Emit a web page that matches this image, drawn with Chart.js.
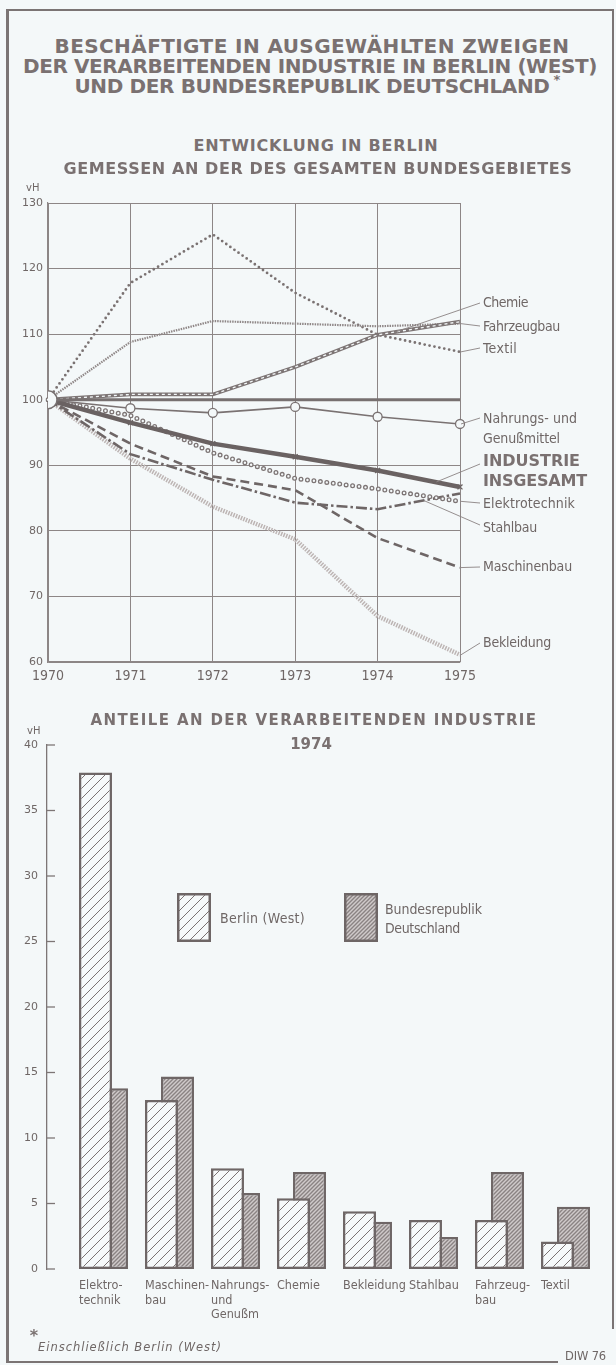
<!DOCTYPE html>
<html lang="de">
<head>
<meta charset="utf-8">
<title>Beschäftigte in ausgewählten Zweigen der verarbeitenden Industrie</title>
<script src="https://cdn.jsdelivr.net/npm/chart.js@4.4.1/dist/chart.umd.min.js"></script>
<style>
  html, body { margin: 0; padding: 0; background: #f4f8f9; }
  #page { position: relative; width: 616px; height: 1365px; overflow: hidden; color: #6f6766; }
  .frame { position: absolute; background: #7b7474; }
  .t { position: absolute; white-space: nowrap; line-height: 1; }
  .head { font-family: 'DejaVu Sans', sans-serif; font-weight: bold; color: #7a7171; }
  .tech { font-family: 'Liberation Sans Narrow', 'DejaVu Sans Condensed', sans-serif; color: #6f6766; }
  .plain { font-family: 'DejaVu Sans', sans-serif; color: #6f6766; }
  canvas { position: absolute; left: 0; }
</style>
</head>
<body>
<div id="page">
  <canvas id="lineChart" width="616" height="520" style="top:180px"></canvas>
  <canvas id="barChart" width="616" height="640" style="top:700px"></canvas>
</div>
<script>
'use strict';

/* ── data: Entwicklung in Berlin, Bundesgebiet = 100 ── */
const YEARS        = ['1970', '1971', '1972', '1973', '1974', '1975'];
const BUND         = [100, 100, 100, 100, 100, 100];
const INSGESAMT    = [100, 96.5, 93.3, 91.3, 89.2, 86.7];
const NAHRUNG      = [100, 98.7, 98.0, 98.9, 97.4, 96.3];
const ELEKTRO      = [100, 97.6, 91.9, 88.0, 86.4, 84.5];
const STAHLBAU     = [100, 91.7, 87.8, 84.3, 83.3, 85.7];
const MASCHINENBAU = [100, 93.3, 88.3, 86.2, 78.9, 74.4];
const CHEMIE       = [100, 100.8, 100.8, 105.0, 109.9, 111.9];
const FAHRZEUGBAU  = [100, 108.8, 112.0, 111.6, 111.2, 111.6];
const TEXTIL       = [100, 117.8, 125.2, 116.3, 109.9, 107.3];
const BEKLEIDUNG   = [100, 91.0, 83.7, 78.7, 67.0, 61.1];
const LINE_TICKS   = [60, 70, 80, 90, 100, 110, 120, 130];

/* ── data: Anteile an der verarbeitenden Industrie 1974 ── */
const BRANCHEN = [
  ['Elektro-', 'technik'], ['Maschinen-', 'bau'], ['Nahrungs-', 'und', 'Genußm'], ['Chemie'],
  ['Bekleidung'], ['Stahlbau'], ['Fahrzeug-', 'bau'], ['Textil'],
];
const ANTEIL_BERLIN = [37.9, 12.9, 7.7, 5.4, 4.4, 3.75, 3.75, 2.1];
const ANTEIL_BRD    = [13.8, 14.7, 5.8, 7.4, 3.6, 2.45, 7.4, 4.75];
const BAR_TICKS     = [0, 5, 10, 15, 20, 25, 30, 35, 40];

const INK   = '#6e6666';
const GRID  = '#8d8686';
const PAPER = '#f4f8f9';
const TECH  = "'Liberation Sans Narrow', 'DejaVu Sans Condensed', sans-serif";

Chart.defaults.font.family = "'DejaVu Sans', sans-serif";
Chart.defaults.color = '#6f6766';

const page = document.getElementById('page');

/* ── text helpers ── */
function put(text, cls, x, y, o = {}) {
  const el = document.createElement('div');
  el.className = 't ' + cls;
  el.textContent = text;
  el.style.fontSize = (o.size || 14) + 'px';
  if (o.italic) el.style.fontStyle = 'italic';
  page.appendChild(el);
  if (o.width) {
    const w = el.getBoundingClientRect().width;
    el.style.letterSpacing = ((o.width - w) / text.length) + 'px';
  }
  const r = el.getBoundingClientRect();
  let left = x;
  if (o.align === 'center') left = x - r.width / 2;
  if (o.align === 'right') left = x - r.width;
  el.style.left = left + 'px';
  el.style.top = (y - r.height / 2) + 'px';
  return el;
}

function frame(x, y, w, h) {
  const d = document.createElement('div');
  d.className = 'frame';
  Object.assign(d.style, { left: x + 'px', top: y + 'px', width: w + 'px', height: h + 'px' });
  page.appendChild(d);
}

frame(6, 9, 607, 2);
frame(6, 9, 3, 1354);
frame(6, 1361, 552, 2);
frame(612, 9, 1.5, 1320);

put('BESCHÄFTIGTE IN AUSGEWÄHLTEN ZWEIGEN', 'head', 312, 46, { size: 20, width: 515, align: 'center' });
put('DER VERARBEITENDEN INDUSTRIE IN BERLIN (WEST)', 'head', 310, 66, { size: 20, width: 574, align: 'center' });
put('UND DER BUNDESREPUBLIK DEUTSCHLAND', 'head', 312, 86, { size: 20, width: 475, align: 'center' });
put('*', 'head', 557, 79, { size: 13, align: 'center' });
put('ENTWICKLUNG IN BERLIN', 'head', 316, 146, { size: 16, width: 245, align: 'center' });
put('GEMESSEN AN DER DES GESAMTEN BUNDESGEBIETES', 'head', 318, 169, { size: 16, width: 509, align: 'center' });
put('vH', 'plain', 26, 188, { size: 10 });

put('Chemie', 'tech', 483, 302, { size: 14, width: 45 });
put('Fahrzeugbau', 'tech', 483, 326, { size: 14, width: 77 });
put('Textil', 'tech', 483, 348, { size: 14, width: 34 });
put('Nahrungs- und', 'tech', 483, 418, { size: 14, width: 94 });
put('Genußmittel', 'tech', 483, 438, { size: 14, width: 77 });
put('INDUSTRIE', 'head', 483, 461, { size: 16, width: 97 });
put('INSGESAMT', 'head', 483, 481, { size: 16, width: 104 });
put('Elektrotechnik', 'tech', 483, 503, { size: 14, width: 92 });
put('Stahlbau', 'tech', 483, 527, { size: 14, width: 54 });
put('Maschinenbau', 'tech', 483, 566, { size: 14, width: 89 });
put('Bekleidung', 'tech', 483, 642, { size: 14, width: 68 });

put('ANTEILE AN DER VERARBEITENDEN INDUSTRIE', 'head', 314, 720, { size: 15, width: 447, align: 'center' });
put('1974', 'head', 311, 744, { size: 15, align: 'center' });
put('vH', 'plain', 27, 731, { size: 10 });

put('Berlin (West)', 'tech', 220, 918, { size: 14, width: 85 });
put('Bundesrepublik', 'tech', 385, 909, { size: 14, width: 97 });
put('Deutschland', 'tech', 385, 928, { size: 14, width: 75 });

put('*', 'head', 34, 1336, { size: 16, align: 'center' });
put('Einschließlich Berlin (West)', 'plain', 38, 1348, { size: 11.5, width: 184, italic: true });
put('DIW 76', 'plain', 606, 1357, { size: 11.5, width: 41, align: 'right' });

/* ── plugins ── */
// second stroke over a line (white dashes inside Chemie, rings for Elektrotechnik)
const overlayPlugin = {
  id: 'overlay',
  afterDatasetDraw(chart, args) {
    const ov = chart.data.datasets[args.index].overlay;
    if (!ov) return;
    const ctx = chart.ctx;
    ctx.save();
    ctx.beginPath();
    args.meta.data.forEach((p, i) => (i ? ctx.lineTo(p.x, p.y) : ctx.moveTo(p.x, p.y)));
    ctx.strokeStyle = ov.color;
    ctx.lineWidth = ov.width;
    ctx.lineCap = ov.cap || 'butt';
    ctx.setLineDash(ov.dash);
    ctx.stroke();
    ctx.restore();
  },
};

// leader lines from the right-hand labels to their series
const LEADERS = [
  { data: CHEMIE, at: 4.2, ly: 303 },
  { data: FAHRZEUGBAU, at: 5, ly: 326 },
  { data: TEXTIL, at: 5, ly: 348 },
  { data: NAHRUNG, at: 5, ly: 418 },
  { data: INSGESAMT, at: 4.7, ly: 464 },
  { data: ELEKTRO, at: 5, ly: 503 },
  { data: STAHLBAU, at: 4.55, ly: 525 },
  { data: MASCHINENBAU, at: 5, ly: 567 },
  { data: BEKLEIDUNG, at: 5, ly: 643 },
];

const leaderPlugin = {
  id: 'leaders',
  afterDraw(chart) {
    const { x, y } = chart.scales;
    const ctx = chart.ctx;
    const top = chart.canvas.offsetTop;
    ctx.save();
    ctx.strokeStyle = '#8a8282';
    ctx.lineWidth = 0.9;
    LEADERS.forEach(l => {
      const i = Math.floor(l.at), f = l.at - i;
      const v = f ? l.data[i] + (l.data[i + 1] - l.data[i]) * f : l.data[i];
      const px = x.getPixelForValue(i) + f * (x.getPixelForValue(i + 1) - x.getPixelForValue(i) || 0);
      ctx.beginPath();
      ctx.moveTo(px + 1, y.getPixelForValue(v));
      ctx.lineTo(480, l.ly - top);
      ctx.stroke();
    });
    ctx.restore();
  },
};

/* ── line chart ── */
const line = (label, data, o) => Object.assign({
  label, data, borderColor: INK, borderWidth: 2.5, pointRadius: 0, tension: 0, fill: false,
}, o);

new Chart(document.getElementById('lineChart'), {
  type: 'line',
  data: {
    labels: YEARS,
    datasets: [
      line('Bundesgebiet', BUND, {
        borderWidth: 3, borderColor: '#777070', clip: 0,
        pointRadius: [9, 0, 0, 0, 0, 0], pointBackgroundColor: PAPER, pointBorderColor: '#777070', pointBorderWidth: 1.5,
      }),
      line('Industrie insgesamt', INSGESAMT, {
        borderWidth: 4.5, borderColor: '#6a6262',
        pointStyle: 'crossRot', pointRadius: [0, 3.5, 3.5, 3.5, 3.5, 3.5], pointBorderColor: '#6a6262', pointBorderWidth: 1.3,
      }),
      line('Nahrungs- und Genußmittel', NAHRUNG, {
        borderWidth: 1.6, borderColor: '#7a7272',
        pointRadius: [0, 4.5, 4.5, 4.5, 4.5, 4.5], pointBackgroundColor: PAPER, pointBorderColor: '#7a7272', pointBorderWidth: 1.3,
      }),
      line('Elektrotechnik', ELEKTRO, {
        borderWidth: 5, borderColor: '#7d7575', borderDash: [0, 6.5], borderCapStyle: 'round',
        overlay: { color: PAPER, width: 2.4, dash: [0, 6.5], cap: 'round' },
      }),
      line('Stahlbau', STAHLBAU, { borderWidth: 2.6, borderDash: [11, 3, 2.5, 3] }),
      line('Maschinenbau', MASCHINENBAU, { borderWidth: 2.6, borderDash: [9, 5] }),
      line('Chemie', CHEMIE, {
        borderWidth: 3.8, borderColor: '#7d7575',
        overlay: { color: PAPER, width: 1.3, dash: [3, 3] },
      }),
      line('Fahrzeugbau', FAHRZEUGBAU, { borderWidth: 2.2, borderColor: '#8f8787', borderDash: [1.5, 1] }),
      line('Textil', TEXTIL, { borderWidth: 2.8, borderColor: '#7a7272', borderDash: [0, 5], borderCapStyle: 'round' }),
      line('Bekleidung', BEKLEIDUNG, { borderWidth: 4.5, borderColor: '#bdb5b4', borderDash: [1.5, 1.2] }),
    ],
  },
  options: {
    responsive: false,
    animation: false,
    events: [],
    devicePixelRatio: 1,
    layout: { padding: { top: 23, right: 156, left: 0, bottom: 0 } },
    plugins: { legend: { display: false }, tooltip: { enabled: false } },
    scales: {
      x: {
        offset: false,
        grid: { color: GRID, lineWidth: 1, drawTicks: false },
        border: { color: GRID, width: 1.2 },
        ticks: { font: { family: TECH, size: 14 }, padding: 6, maxRotation: 0 },
        afterFit: s => { s.height = 38; },
      },
      y: {
        min: 60, max: 130,
        afterBuildTicks: s => { s.ticks = LINE_TICKS.map(v => ({ value: v })); },
        grid: { color: GRID, lineWidth: 1, drawTicks: false },
        border: { color: GRID, width: 1.2 },
        ticks: { font: { size: 11 }, padding: 5 },
        afterFit: s => { s.width = 48; },
      },
    },
  },
  plugins: [overlayPlugin, leaderPlugin],
});

/* ── bar chart ── */
function hatch(size, bg, fg, lw) {
  const c = document.createElement('canvas');
  c.width = c.height = size;
  const g = c.getContext('2d');
  g.fillStyle = bg;
  g.fillRect(0, 0, size, size);
  g.strokeStyle = fg;
  g.lineWidth = lw;
  g.beginPath();
  g.moveTo(-size, size * 2); g.lineTo(size * 2, -size);
  g.moveTo(-size, size); g.lineTo(size, -size);
  g.moveTo(0, size * 2); g.lineTo(size * 2, 0);
  g.stroke();
  return g.createPattern(c, 'repeat');
}

const berlinFill = hatch(10, '#f6f9fa', '#7a7272', 1);
const brdFill = hatch(4, '#cfcaca', '#8a8383', 1.4);

const LABEL_SHIFT = 0.371;   // labels start at the left edge of the Berlin bar

const legendBoxes = {
  id: 'legendBoxes',
  afterDraw(chart) {
    const ctx = chart.ctx;
    ctx.save();
    [[177, berlinFill], [344, brdFill]].forEach(([x, fill]) => {
      ctx.fillStyle = fill;
      ctx.fillRect(x, 193, 34, 49);
      ctx.strokeStyle = INK;
      ctx.lineWidth = 2.5;
      ctx.strokeRect(x + 1.25, 194.25, 31.5, 46.5);
    });
    // tick marks pointing into the plot
    const y = chart.scales.y, left = chart.chartArea.left;
    ctx.strokeStyle = '#7d7676';
    ctx.lineWidth = 1.3;
    y.ticks.forEach(t => {
      const py = y.getPixelForValue(t.value);
      ctx.beginPath();
      ctx.moveTo(left, py);
      ctx.lineTo(left + 8, py);
      ctx.stroke();
    });
    ctx.restore();
  },
};

new Chart(document.getElementById('barChart'), {
  type: 'bar',
  data: {
    datasets: [
      {
        label: 'Berlin (West)',
        data: ANTEIL_BERLIN.map((v, i) => ({ x: i, y: v })),
        backgroundColor: berlinFill, borderColor: INK, borderWidth: 2.5, borderSkipped: false,
      },
      {
        label: 'Bundesrepublik Deutschland',
        data: ANTEIL_BRD.map((v, i) => ({ x: i, y: v })),
        backgroundColor: brdFill, borderColor: INK, borderWidth: 2.5, borderSkipped: false,
      },
    ],
  },
  options: {
    responsive: false,
    animation: false,
    events: [],
    devicePixelRatio: 1,
    categoryPercentage: 0.485,
    barPercentage: 2.06,
    layout: { padding: { top: 45, right: 17.5, left: 0, bottom: 0 } },
    plugins: { legend: { display: false }, tooltip: { enabled: false } },
    scales: {
      x: {
        type: 'linear',
        offset: false,
        min: -0.856, max: 7.5,
        afterBuildTicks: s => { s.ticks = BRANCHEN.map((_, i) => ({ value: i - LABEL_SHIFT })); },
        grid: { display: false, drawTicks: false, offset: false },
        border: { display: false },
        ticks: {
          autoSkip: false, maxRotation: 0, align: 'start', padding: 10,
          font: { family: TECH, size: 12.5, lineHeight: 1.15 },
          callback: (v, i) => BRANCHEN[i],
        },
        afterFit: s => { s.height = 71; },
      },
      y: {
        min: 0, max: 40,
        afterBuildTicks: s => { s.ticks = BAR_TICKS.map(v => ({ value: v })); },
        grid: { display: false, drawTicks: false },
        border: { color: '#7d7676', width: 1.3 },
        ticks: { font: { size: 11 }, padding: 9 },
        afterFit: s => { s.width = 47; },
      },
    },
  },
  plugins: [legendBoxes],
});
</script>
</body>
</html>
